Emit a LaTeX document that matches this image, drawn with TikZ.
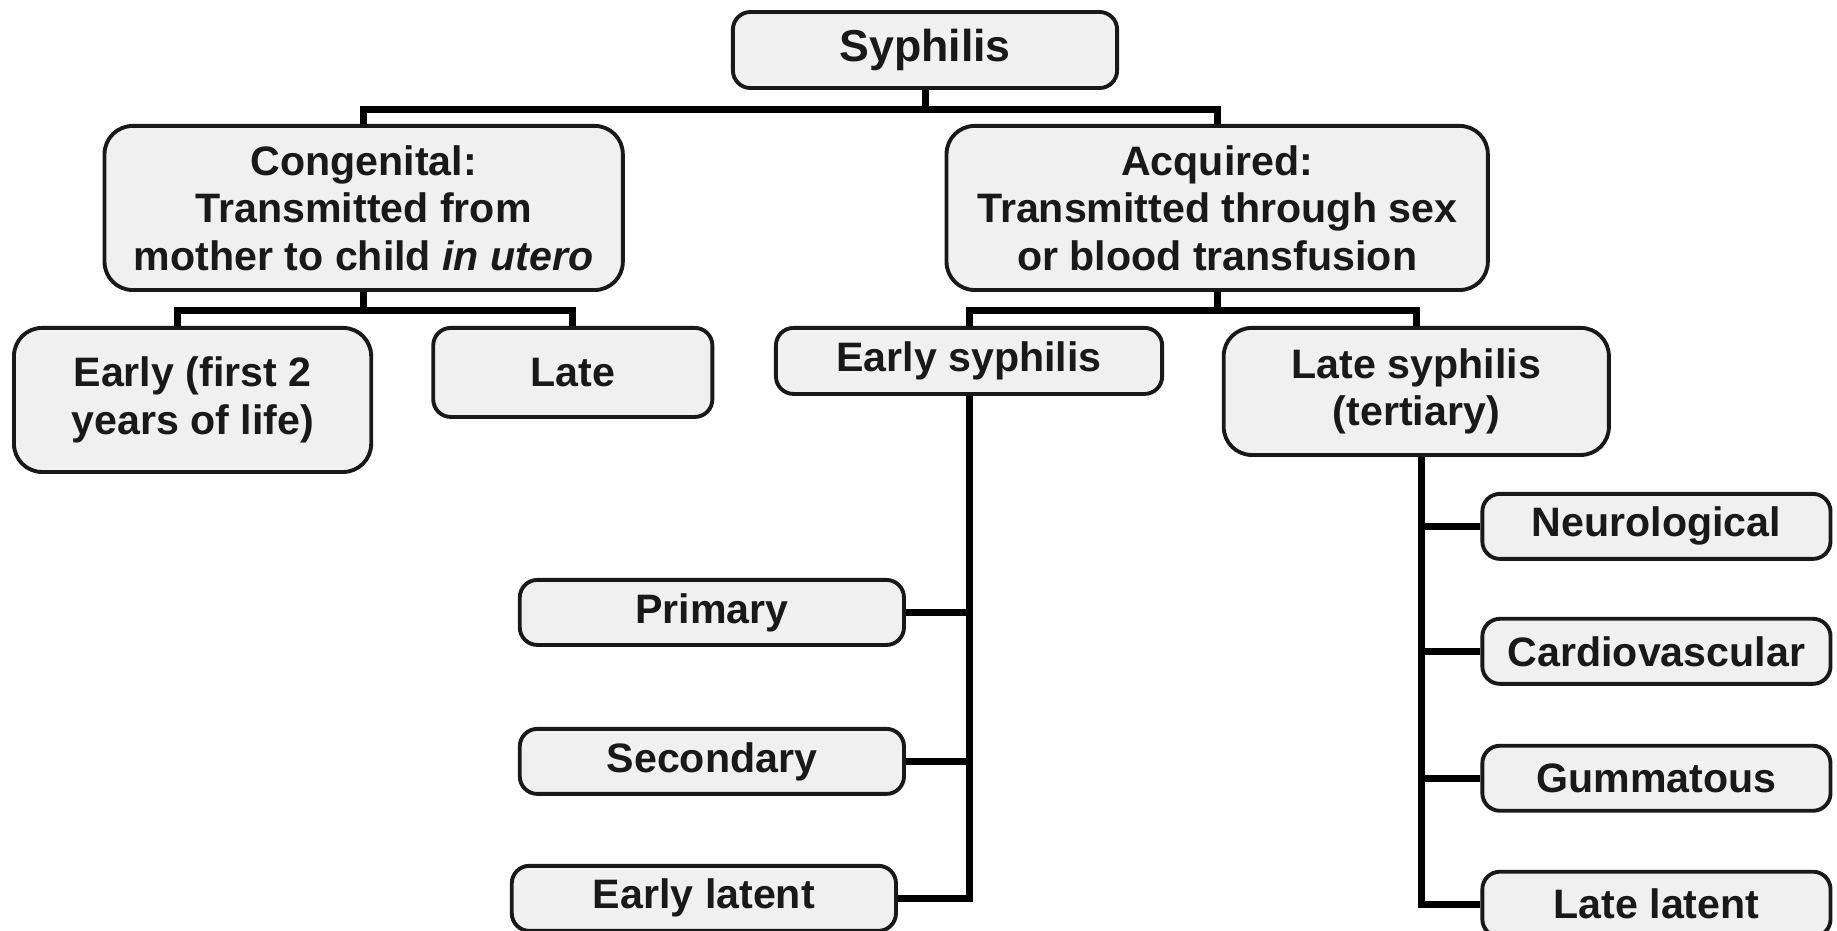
\documentclass[tikz,border=0pt]{standalone}
\usepackage{fontspec}
\setmainfont{Liberation Sans}
\usetikzlibrary{positioning,calc}

\tikzset{
  box/.style={draw=black!90, fill=gray!12, rounded corners=5pt, line width=1.1pt,
    align=center, inner sep=1pt, text=black!90,
    font=\bfseries\fontsize{11.7}{13.5}\selectfont},
  bigbox/.style={box, rounded corners=8pt},
  link/.style={line width=2pt, black},
}

\begin{document}
\begin{tikzpicture}[x=0.01cm, y=-0.01cm]
  \useasboundingbox (0,0) rectangle (1837,930);
  \node[box, minimum width=3.84cm, minimum height=0.76cm,
        font=\bfseries\fontsize{12.7}{14}\selectfont] (syph) at (925,50) {Syphilis};
  \node[bigbox, minimum width=5.18cm, minimum height=1.64cm, below=0.34cm of syph, xshift=-5.61cm] (cong)
    {Congenital:\\Transmitted from\\mother to child \textit{in utero}};
  \node[bigbox, minimum width=5.41cm, minimum height=1.64cm, below=0.34cm of syph, xshift=2.92cm] (acq)
    {Acquired:\\Transmitted through sex\\or blood transfusion};
  \node[bigbox, minimum width=3.57cm, minimum height=1.44cm, below=0.34cm of cong, xshift=-1.71cm] (early)
    {Early (first 2\\years of life)};
  \node[box, minimum width=2.79cm, minimum height=0.89cm, below=0.34cm of cong, xshift=2.09cm] (late) {Late};
  \node[box, minimum width=3.86cm, minimum height=0.66cm, below=0.34cm of acq, xshift=-2.48cm] (esyph) {Early syphilis};
  \node[bigbox, minimum width=3.85cm, minimum height=1.27cm, below=0.34cm of acq, xshift=1.99cm] (lsyph)
    {Late syphilis\\(tertiary)};
  \node[box, minimum width=3.84cm, minimum height=0.65cm, below=1.82cm of esyph, xshift=-2.57cm] (prim) {Primary};
  \node[box, minimum width=3.84cm, minimum height=0.65cm, below=0.80cm of prim] (sec) {Secondary};
  \node[box, minimum width=3.84cm, minimum height=0.65cm, below=0.68cm of sec, xshift=-0.08cm] (elat) {Early latent};
  \node[box, minimum width=3.48cm, minimum height=0.65cm, below=0.35cm of lsyph, xshift=2.40cm] (neuro) {Neurological};
  \node[box, minimum width=3.48cm, minimum height=0.65cm, below=0.56cm of neuro] (cardio) {Cardiovascular};
  \node[box, minimum width=3.48cm, minimum height=0.65cm, below=0.58cm of cardio] (gumma) {Gummatous};
  \node[box, minimum width=3.48cm, minimum height=0.65cm, below=0.57cm of gumma] (llat) {Late latent};

  \draw[link] (syph.south) -- ++(0,20) coordinate (top);
  \draw[link] (cong.north) |- (top) -| (acq.north);
  \draw[link] (cong.south) -- ++(0,19) coordinate (cb);
  \draw[link] ($(early.north)+(-15,0)$) |- (cb) -| (late.north);
  \draw[link] (acq.south) -- ++(0,19) coordinate (ab);
  \draw[link] (esyph.north) |- (ab) -| (lsyph.north);
  \draw[link] (esyph.south) |- (elat.east);
  \draw[link] (prim.east) -- (prim.east -| esyph.south);
  \draw[link] (sec.east) -- (sec.east -| esyph.south);
  \draw[link] ($(lsyph.south)+(5,0)$) coordinate (ls) |- (llat.west);
  \draw[link] (neuro.west) -- (neuro.west -| ls);
  \draw[link] (cardio.west) -- (cardio.west -| ls);
  \draw[link] (gumma.west) -- (gumma.west -| ls);
\end{tikzpicture}
\end{document}
